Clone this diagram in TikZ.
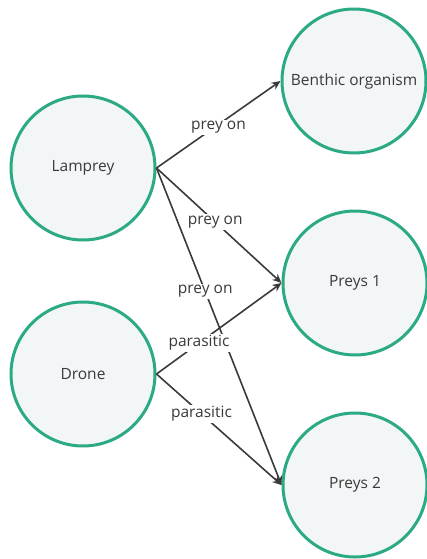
\documentclass[tikz,border=0pt]{standalone}
\usepackage{fontspec}
\setmainfont{Open Sans}
\usetikzlibrary{arrows.meta}
\definecolor{ringgreen}{HTML}{2BAA85}
\definecolor{ringfill}{HTML}{F2F6F6}
\definecolor{edgegray}{HTML}{3A3A3A}
\definecolor{txtgray}{HTML}{3A3A3A}
\tikzset{
  entity/.style={circle, draw=ringgreen, line width=3pt, fill=ringfill, minimum size=144pt, inner sep=0pt, text=txtgray, font=\fontsize{15.5}{18}\selectfont},
  rel/.style={draw=edgegray, line width=1.6pt, -{Stealth[length=9pt,width=8pt]}},
  lbl/.style={fill=white, inner sep=1.5pt, text=txtgray, font=\fontsize{15.5}{18}\selectfont}
}
\begin{document}
\begin{tikzpicture}[x=1pt,y=-1pt]
\useasboundingbox (0,0) rectangle (427,559);
\node[entity] (L) at (83,168) {Lamprey};
\node[entity] (D) at (83,374) {Drone};
\node[entity] (B) at (354,81) {Benthic organism};
\node[entity] (P1) at (355,283) {Preys 1};
\node[entity] (P2) at (355,485) {Preys 2};
\draw[rel] (L.east) -- node[lbl, pos=0.5, yshift=-3pt] {prey on} (B.west);
\draw[rel] (L.east) -- node[lbl, pos=0.47] {prey on} (P1.west);
\draw[rel] (L.east) -- node[lbl, pos=0.39] {prey on} (P2.west);
\draw[rel] (D.east) -- node[lbl, pos=0.34] {parasitic} (P1.west);
\draw[rel] (D.east) -- node[lbl, pos=0.36] {parasitic} (P2.west);
\end{tikzpicture}
\end{document}
